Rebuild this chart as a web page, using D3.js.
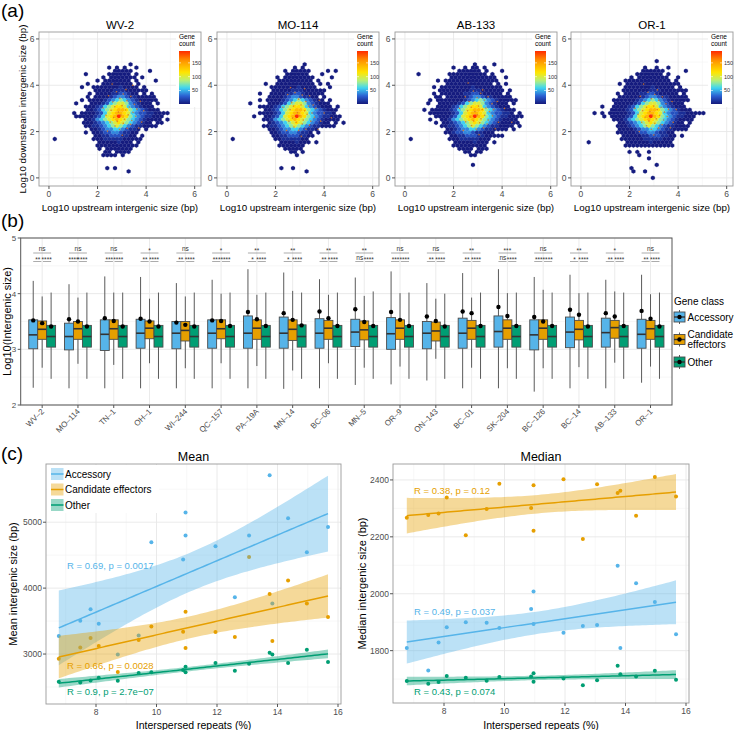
<!DOCTYPE html>
<html>
<head>
<meta charset="UTF-8">
<title>Intergenic size</title>
<script src="https://d3js.org/d3.v7.min.js"></script>
<style>
body { margin: 0; background: #fff; }
svg { font-family: "Liberation Sans", Arial, Helvetica, sans-serif; display: block; }
</style>
</head>
<body>
<script>
/* ---------- data: panel (a) hexbin counts ---------- */
// each grid row is one hex row (top to bottom), one char per hex column
// '.' = empty, digits/letters = count class (see hexCountKey)
var hexStrains = ["WV-2", "MO-114", "AB-133", "OR-1"];
var hexCountKey = {"1": 2, "2": 10, "3": 24, "4": 40, "5": 58, "6": 78, "7": 100, "8": 118, "9": 138, "A": 192};

var hexWV2 = [
"",
"...................1",
"..............1.1.1..1",
"...............11111....1",
"........1.....111111.1",
"............1.1111111.1",
"...........1.1111111.1....1",
"........1...11111111.1",
".......1..111111121111.1",
"..........11111222111111",
".........1.11112233211.1.1",
"........1.1111234432211111",
".......1.111123456543211111",
".....1...1112356776432111.1",
"........111235678875432111",
"........1123567899865432111",
".....1.11112357899875433221111",
".....11111235789A98654322111",
"........11245678987654321111.1",
".......111234567876543211.11",
"........1122345676543221111",
".........1123445543221.1",
"........1.112334432211",
"..........11223332211.1",
"1.........1112222211111",
"...........111112111.1",
"...........11111111111",
"...........1.1111111",
".............11.1111",
"............1111.1",
"",
"",
"",
".............1.1",
"...................1",
""
];
var hexMO114 = [
"",
"..................1",
"................1.1",
".............1.11111....1.1",
"..............111111...1",
"...........1.11111111....1",
"............111111111.1",
"........1..1111111111.1.1",
"..........111111121111...1",
"..........11111222111111",
".......1..11112233211111",
".........1111234432211.1",
".......1.111123456543211.1",
"....1....1112356776432111",
".......1111235678875432111.1",
"........1123567899865432111",
".......11112357899875433221",
".....1..11235789A98654322111",
"........11245678987654321111",
".........1234567876543211.1.1",
"........1122345676543221111",
".........1123445543221",
"..........11233443221.1",
"..........11223332211",
"1..........112222211",
"............11112111.1",
"............1111111",
".............11111",
"...............11.1",
"................1",
"",
"",
"",
"............1..1",
"...................1",
""
];
var hexAB133 = [
"",
"................1....1",
"...........1..1.11.1",
"............111111.1...1",
"..1.......1111111111.1",
"..........111111111111..1",
".......1.11111111111111",
".........111111111111.1.1",
"......1.1111111121111111",
".......11111111222111111.1",
"......1.1111112233211111.1",
"......11.11111234432211111",
".....1.111111123456543211111",
"....1..111112356776432111.1",
".......1111235678875432111",
"...1.1111123567899865432111",
".....1111112357899875433221.1",
"......1111235789A986543221111",
".....1..11245678987654321111",
"......1.11234567876543211111",
"........1122345676543221111.1",
".........1123445543221111.1",
".........1123344322111",
"..........11223332211111",
"1.........11122222111",
"...........111112111.1",
"...........111111111",
"............1111.111",
"..............11.11",
"...............11",
"",
"",
"................1",
"",
"",
""
];
var hexOR1 = [
"..................1",
"",
"...............1..1..1",
"..............111111.....1",
".............1111111.1",
"...........1.11111111..1",
"..........111111111111.1",
"........1.11111111111111",
"..........1111111211111.1",
".........11111112221111111",
"........1.11112233211111.1",
"........111111234432211111",
".......11111123456543211111",
".......111112356776432111",
"....1..1111235678875432111",
"......111123567899865432111",
"..1.1.1111123578998754332211111",
"....1.1111235789A98654322111",
".......111245678987654321111",
"........11234567876543211.1",
"........1112345676543221111",
"........111123445543221111",
"........111112334432211",
".........11111223332211.1",
".........11111122222111",
"1.........111111211111",
"..........1111111111111",
"",
"...........1.1..1",
".............1",
"................1",
"",
"..................1",
"...........1",
"............1..1",
"",
".................1"
];

// small points of candidate effector genes over the hexes (log10 up, log10 down)
var dotsWV2 = [[2.45,3.55],[2.62,3.28],[2.78,3.72],[2.92,3.44],[3.06,3.62],[3.21,3.33],[3.37,3.52],[3.52,3.18],[2.56,2.92],[2.71,3.07],[2.86,2.84],[3.01,3.12],[3.16,2.93],[3.31,3.06],[3.46,2.83],[3.62,2.97],[2.66,2.61],[2.81,2.44],[2.96,2.71],[3.11,2.53],[3.26,2.72],[3.41,2.48],[3.57,2.66],[2.72,2.24],[2.91,2.09],[3.06,2.36],[3.22,2.14],[3.36,2.31],[2.41,2.02],[3.76,3.31],[3.82,2.41],[2.23,3.02],[3.02,1.84],[3.17,3.81],[2.52,2.41],[2.35,2.7],[3.7,2.15],[3.9,2.9],[2.6,4.05],[3.45,4.0]];
var dotsMO114 = [[2.5,3.6],[2.66,3.25],[2.8,3.68],[2.95,3.4],[3.1,3.58],[3.25,3.3],[3.4,3.55],[3.55,3.15],[2.6,2.95],[2.74,3.1],[2.9,2.82],[3.05,3.15],[3.2,2.9],[3.35,3.1],[3.5,2.8],[3.66,3.0],[2.7,2.58],[2.85,2.4],[3.0,2.68],[3.14,2.5],[3.3,2.75],[3.45,2.45],[3.6,2.62],[2.76,2.2],[2.95,2.05],[3.1,2.33],[3.25,2.1],[3.4,2.28],[2.45,2.05],[3.8,3.35],[3.86,2.45],[2.3,3.05],[3.06,1.8],[3.2,3.85],[2.55,2.45],[4.0,2.8],[3.75,2.1],[2.62,3.9],[4.3,2.6]];
var dotsAB133 = [[2.48,3.5],[2.64,3.3],[2.82,3.75],[2.97,3.46],[3.12,3.65],[3.27,3.36],[3.42,3.5],[3.58,3.2],[2.58,2.9],[2.73,3.05],[2.88,2.86],[3.03,3.1],[3.18,2.95],[3.33,3.02],[3.48,2.86],[3.65,2.95],[2.68,2.63],[2.83,2.46],[2.98,2.72],[3.13,2.55],[3.28,2.7],[3.43,2.5],[3.6,2.68],[2.74,2.26],[2.93,2.1],[3.08,2.38],[3.24,2.16],[3.38,2.33],[2.4,2.05],[3.8,3.3],[3.85,2.4],[2.25,3.0],[3.05,1.86],[3.2,3.8],[2.5,2.42],[4.1,3.0],[3.72,2.12],[2.6,4.1],[4.4,2.4]];
var dotsOR1 = [[2.44,3.52],[2.6,3.3],[2.76,3.7],[2.9,3.42],[3.04,3.6],[3.2,3.35],[3.35,3.5],[3.5,3.2],[2.54,2.9],[2.7,3.05],[2.84,2.86],[3.0,3.1],[3.14,2.95],[3.3,3.05],[3.44,2.84],[3.6,2.96],[2.64,2.62],[2.8,2.45],[2.94,2.7],[3.1,2.55],[3.24,2.7],[3.4,2.5],[3.55,2.65],[2.7,2.25],[2.9,2.1],[3.04,2.36],[3.2,2.15],[3.34,2.3],[2.4,2.0],[3.75,3.3],[3.8,2.4],[2.22,3.0],[3.0,1.85],[3.15,3.8],[2.5,2.4],[2.35,2.75],[3.68,2.16],[3.92,2.95],[2.58,4.05]];

var hexGrids = [hexWV2, hexMO114, hexAB133, hexOR1];
var hexDots = [dotsWV2, dotsMO114, dotsAB133, dotsOR1];
var hexTicks = [0, 2, 4, 6];
var geneCountTicks = [50, 100, 150];

/* ---------- data: panel (b) boxplots ---------- */
var boxStrains = ["WV-2","MO-114","TN-1","OH-1","WI-244","QC-157","PA-19A","MN-14","BC-06","MN-5","OR-9","ON-143","BC-01","SK-204","BC-126","BC-14","AB-133","OR-1"];
// [lower whisker, Q1, median, Q3, upper whisker, mean] of log10(intergenic size)
var accStats = [
  [2.31,3.01,3.26,3.53,4.23,3.52],[2.30,2.99,3.23,3.47,4.17,3.54],[2.30,2.98,3.27,3.53,4.31,3.56],
  [2.30,3.02,3.29,3.54,4.30,3.55],[2.30,3.01,3.29,3.50,4.19,3.48],[2.30,3.02,3.29,3.53,4.25,3.52],
  [2.30,3.02,3.29,3.60,4.44,3.67],[2.29,3.02,3.29,3.58,4.38,3.65],[2.30,3.02,3.29,3.55,4.26,3.68],
  [2.36,3.05,3.31,3.54,4.29,3.72],[2.37,3.00,3.28,3.57,4.40,3.67],[2.44,3.01,3.29,3.50,4.19,3.59],
  [2.30,3.02,3.29,3.56,4.37,3.68],[2.30,3.04,3.32,3.60,4.44,3.76],[2.24,2.99,3.26,3.53,4.30,3.58],
  [2.30,3.03,3.31,3.58,4.34,3.71],[2.30,3.04,3.30,3.56,4.25,3.65],[2.40,3.02,3.27,3.54,4.34,3.69]
];
var candStats = [
  [2.67,3.18,3.36,3.51,3.95,3.47],[2.74,3.18,3.37,3.50,3.93,3.50],[2.72,3.18,3.37,3.53,4.02,3.51],
  [2.75,3.19,3.38,3.51,3.91,3.50],[2.66,3.15,3.34,3.50,3.95,3.44],[2.75,3.19,3.37,3.53,4.00,3.51],
  [2.70,3.18,3.38,3.53,3.98,3.54],[2.62,3.16,3.36,3.53,4.05,3.53],[2.75,3.18,3.38,3.52,3.98,3.56],
  [2.67,3.17,3.35,3.51,3.96,3.49],[2.69,3.18,3.38,3.53,4.01,3.53],[2.83,3.15,3.33,3.49,3.91,3.51],
  [2.67,3.18,3.38,3.52,3.93,3.65],[2.66,3.18,3.38,3.53,4.01,3.60],[2.66,3.18,3.38,3.53,4.07,3.50],
  [2.68,3.17,3.36,3.52,4.01,3.62],[2.76,3.20,3.39,3.52,4.04,3.59],[2.69,3.18,3.37,3.52,3.99,3.55]
];
var otherStats = [
  [2.47,3.04,3.23,3.43,4.02,3.41],[2.47,3.04,3.23,3.43,4.02,3.41],[2.47,3.04,3.23,3.43,4.02,3.41],
  [2.47,3.04,3.23,3.43,4.02,3.41],[2.47,3.04,3.23,3.43,4.02,3.41],[2.47,3.04,3.23,3.43,4.02,3.42],
  [2.47,3.04,3.23,3.43,4.02,3.42],[2.47,3.04,3.23,3.44,4.02,3.43],[2.47,3.04,3.23,3.43,4.02,3.42],
  [2.47,3.04,3.23,3.43,4.04,3.42],[2.47,3.04,3.23,3.43,4.02,3.42],[2.47,3.04,3.23,3.43,4.00,3.41],
  [2.47,3.04,3.23,3.43,4.02,3.42],[2.47,3.04,3.23,3.43,4.02,3.42],[2.47,3.04,3.23,3.43,4.02,3.42],
  [2.47,3.04,3.23,3.43,4.02,3.41],[2.47,3.04,3.23,3.43,4.02,3.42],[2.47,3.04,3.23,3.43,4.02,3.41]
];
var sigAll = ["ns","ns","ns","*","ns","*","**","**","**","**","ns","ns","**","***","ns","**","*","ns"];
var sigAccCand = ["**","****","***","**","**","***","*","*","**","ns","***","**","**","ns","***","*","**","**"];
var sigCandOther = ["****","****","****","****","****","****","****","****","****","****","****","****","****","****","****","****","****","****"];
var boxYTicks = [2, 3, 4, 5];

/* ---------- data: panel (c) ---------- */
var repeatPct = [6.77, 7.48, 7.82, 8.09, 8.72, 9.41, 9.83, 10.88, 10.96, 10.96, 11.95, 12.59, 13.06, 13.74, 13.83, 14.35, 14.97, 15.67];
var meanAcc   = [3272, 3505, 3681, 3459, 2994, 3282, 4696, 4434, 5146, 4797, 4636, 3863, 4797, 5711, 3767, 5060, 4545, 4929];
var meanCand  = [2929, 3100, 3242, 3121, 2727, 3212, 3419, 3338, 3641, 3090, 3333, 3257, 4474, 3909, 3197, 4115, 3767, 3560];
var meanOther = [2580, 2570, 2600, 2641, 2596, 2712, 2722, 2757, 2808, 2722, 2863, 2747, 2853, 3020, 2994, 2863, 3065, 2878];
var medAcc    = [1809, 1730, 1829, 1882, 1900, 1898, 1880, 1946, 2008, 1894, 1863, 1887, 1890, 2098, 1809, 2037, 1971, 1858];
var medCand   = [2267, 2277, 2282, 2338, 2206, 2298, 2387, 2301, 2381, 2221, 2402, 2192, 2385, 2354, 2362, 2274, 2410, 2342];
var medOther  = [1693, 1684, 1690, 1711, 1705, 1694, 1707, 1709, 1721, 1691, 1702, 1678, 1696, 1747, 1717, 1709, 1729, 1698];
var meanLabels = ["R = 0.69, p = 0.0017", "R = 0.66, p = 0.0028", "R = 0.9, p = 2.7e\u221207"];
var medLabels  = ["R = 0.49, p = 0.037", "R = 0.38, p = 0.12", "R = 0.43, p = 0.074"];
var geneClasses = ["Accessory", "Candidate effectors", "Other"];
var classColors = ["#56B4E9", "#E69F00", "#009E73"];
var repeatTicks = [8, 10, 12, 14, 16];

/* ---------- drawing ---------- */
var W = 735, H = 730;
var svg = d3.select("body").append("svg").attr("width", W).attr("height", H);
svg.append("rect").attr("width", W).attr("height", H).attr("fill", "#fff");
var defs = svg.append("defs");
var tickCol = "#4d4d4d";

function panelLabel(txt, x, y) {
  svg.append("text").attr("x", x).attr("y", y).attr("font-size", 19).text(txt);
}
panelLabel("(a)", 1, 17);
panelLabel("(b)", 1, 227);
panelLabel("(c)", 1, 460);

// ---- (a) ----
var hexColor = d3.scaleLinear()
  .domain([1, 30, 60, 85, 115, 160, 193])
  .range(["#141a7c", "#2b5fd2", "#3fd8f2", "#b6f07c", "#ffe600", "#ff9000", "#ff2a00"]);
var hexLefts = [39, 217, 395, 571];

// gradient for the colour bar
var grad = defs.append("linearGradient").attr("id", "gc").attr("x1", 0).attr("x2", 0).attr("y1", 1).attr("y2", 0);
d3.range(0, 1.0001, 0.05).forEach(function (t) {
  grad.append("stop").attr("offset", t).attr("stop-color", hexColor(1 + t * 192));
});

function drawHex(k) {
  var left = hexLefts[k];
  var x = d3.scaleLinear().domain([-0.41, 6.26]).range([left, left + 162]);
  var y = d3.scaleLinear().domain([-0.35, 6.3]).range([186, 32]);
  var g = svg.append("g");
  defs.append("clipPath").attr("id", "hc" + k).append("rect")
    .attr("x", left).attr("y", 32).attr("width", 162).attr("height", 154);

  [1, 3, 5].forEach(function (v) {
    g.append("line").attr("x1", x(v)).attr("x2", x(v)).attr("y1", 32).attr("y2", 186).attr("stroke", "#f3f3f3").attr("stroke-width", 0.6);
    g.append("line").attr("y1", y(v)).attr("y2", y(v)).attr("x1", left).attr("x2", left + 162).attr("stroke", "#f3f3f3").attr("stroke-width", 0.6);
  });
  hexTicks.forEach(function (v) {
    g.append("line").attr("x1", x(v)).attr("x2", x(v)).attr("y1", 32).attr("y2", 186).attr("stroke", "#e8e8e8").attr("stroke-width", 0.9);
    g.append("line").attr("y1", y(v)).attr("y2", y(v)).attr("x1", left).attr("x2", left + 162).attr("stroke", "#e8e8e8").attr("stroke-width", 0.9);
  });

  // hex cells
  var cells = [];
  hexGrids[k].forEach(function (row, i) {
    for (var j = 0; j < row.length; j++) {
      var ch = row[j];
      if (ch === ".") continue;
      cells.push({ cx: 0.24 + 0.16 * j + (i % 2 ? 0.08 : 0), cy: 5.04 - 0.14 * i, n: hexCountKey[ch] });
    }
  });
  var hw = (x(0.16) - x(0)) / 2, R = (y(0) - y(0.14)) / 1.5;
  var hexPath = "M0," + (-R) + "L" + hw + "," + (-R / 2) + "L" + hw + "," + (R / 2) + "L0," + R +
    "L" + (-hw) + "," + (R / 2) + "L" + (-hw) + "," + (-R / 2) + "Z";
  var cg = g.append("g").attr("clip-path", "url(#hc" + k + ")");
  cg.selectAll("path.hex").data(cells).enter().append("path")
    .attr("d", hexPath)
    .attr("transform", function (d) { return "translate(" + x(d.cx) + "," + y(d.cy) + ")"; })
    .attr("fill", function (d) { return hexColor(d.n); })
    .attr("stroke", function (d) { return hexColor(d.n); })
    .attr("stroke-width", 0.2);
  cg.selectAll("circle.eff").data(hexDots[k]).enter().append("circle")
    .attr("cx", function (d) { return x(d[0]); })
    .attr("cy", function (d) { return y(d[1]); })
    .attr("r", 0.8).attr("fill", "#e0761a").attr("fill-opacity", 0.85);

  g.append("rect").attr("x", left).attr("y", 32).attr("width", 162).attr("height", 154)
    .attr("fill", "none").attr("stroke", "#9a9a9a").attr("stroke-width", 0.9);

  // axes
  hexTicks.forEach(function (v) {
    g.append("line").attr("x1", x(v)).attr("x2", x(v)).attr("y1", 186).attr("y2", 189).attr("stroke", "#555");
    g.append("text").attr("x", x(v)).attr("y", 197).attr("text-anchor", "middle").attr("font-size", 8.5).attr("fill", tickCol).text(v);
    g.append("line").attr("x1", left - 3).attr("x2", left).attr("y1", y(v)).attr("y2", y(v)).attr("stroke", "#555");
    g.append("text").attr("x", left - 4.5).attr("y", y(v) + 3).attr("text-anchor", "end").attr("font-size", 8.5).attr("fill", tickCol).text(v);
  });
  g.append("text").attr("x", left + 81).attr("y", 211).attr("text-anchor", "middle").attr("font-size", 9.8)
    .text("Log10 upstream intergenic size (bp)");
  g.append("text").attr("x", left + 81).attr("y", 29).attr("text-anchor", "middle").attr("font-size", 11.5)
    .text(hexStrains[k]);
  if (k === 0) {
    g.append("text").attr("transform", "translate(26,109) rotate(-90)").attr("text-anchor", "middle").attr("font-size", 9.8)
      .text("Log10 downstream intergenic size (bp)");
  }

  // colour bar legend
  var lx = left + 140;
  g.append("rect").attr("x", lx - 3).attr("y", 33).attr("width", 24).attr("height", 74).attr("fill", "#fff");
  g.append("text").attr("x", lx).attr("y", 39).attr("font-size", 6.5).text("Gene");
  g.append("text").attr("x", lx).attr("y", 46).attr("font-size", 6.5).text("count");
  var cb = d3.scaleLinear().domain([1, 193]).range([104, 51]);
  g.append("rect").attr("x", lx).attr("y", 51).attr("width", 11).attr("height", 53).attr("fill", "url(#gc)");
  geneCountTicks.forEach(function (v) {
    g.append("line").attr("x1", lx).attr("x2", lx + 2).attr("y1", cb(v)).attr("y2", cb(v)).attr("stroke", "#fff").attr("stroke-width", 0.6);
    g.append("line").attr("x1", lx + 9).attr("x2", lx + 11).attr("y1", cb(v)).attr("y2", cb(v)).attr("stroke", "#fff").attr("stroke-width", 0.6);
    g.append("text").attr("x", lx + 13).attr("y", cb(v) + 2).attr("font-size", 5.5).attr("fill", "#333").text(v);
  });
}
for (var k = 0; k < 4; k++) drawHex(k);

// ---- (b) ----
(function () {
  var L = 20.7, Rr = 672, T = 238, B = 405;
  var bx = d3.scalePoint().domain(boxStrains).range([L, Rr]).padding(0.6);
  var by = d3.scaleLinear().domain([2, 5]).range([B, T]);
  var bw = bx.step() * 0.25;
  var g = svg.append("g");

  [2.5, 3.5, 4.5].forEach(function (v) {
    g.append("line").attr("x1", L).attr("x2", Rr).attr("y1", by(v)).attr("y2", by(v)).attr("stroke", "#f2f2f2").attr("stroke-width", 0.6);
  });
  boxYTicks.forEach(function (v) {
    g.append("line").attr("x1", L).attr("x2", Rr).attr("y1", by(v)).attr("y2", by(v)).attr("stroke", "#e6e6e6").attr("stroke-width", 0.9);
  });
  boxStrains.forEach(function (s) {
    g.append("line").attr("x1", bx(s)).attr("x2", bx(s)).attr("y1", T).attr("y2", B).attr("stroke", "#e9e9e9").attr("stroke-width", 0.9);
  });

  var sets = [accStats, candStats, otherStats];
  sets.forEach(function (stats, c) {
    var off = (c - 1) * bw;
    boxStrains.forEach(function (s, i) {
      var d = stats[i], cx = bx(s) + off;
      g.append("line").attr("x1", cx).attr("x2", cx).attr("y1", by(d[4])).attr("y2", by(d[3])).attr("stroke", "#5a5a5a").attr("stroke-width", 1);
      g.append("line").attr("x1", cx).attr("x2", cx).attr("y1", by(d[1])).attr("y2", by(d[0])).attr("stroke", "#5a5a5a").attr("stroke-width", 1);
      g.append("rect").attr("x", cx - bw / 2).attr("width", bw).attr("y", by(d[3])).attr("height", by(d[1]) - by(d[3]))
        .attr("fill", classColors[c]).attr("stroke", "#4a4a4a").attr("stroke-width", 0.9);
      g.append("line").attr("x1", cx - bw / 2).attr("x2", cx + bw / 2).attr("y1", by(d[2])).attr("y2", by(d[2])).attr("stroke", "#333").attr("stroke-width", 1.6);
    });
  });
  sets.forEach(function (stats, c) {
    var off = (c - 1) * bw;
    boxStrains.forEach(function (s, i) {
      g.append("circle").attr("cx", bx(s) + off).attr("cy", by(stats[i][5])).attr("r", 2.2).attr("fill", "#000");
    });
  });

  // significance brackets
  boxStrains.forEach(function (s, i) {
    var xb = bx(s) - bw, xo = bx(s), xg = bx(s) + bw;
    g.append("line").attr("x1", xb).attr("x2", xg).attr("y1", 253).attr("y2", 253).attr("stroke", "#888").attr("stroke-width", 0.7);
    g.append("line").attr("x1", xb).attr("x2", xo - 0.8).attr("y1", 261.5).attr("y2", 261.5).attr("stroke", "#888").attr("stroke-width", 0.7);
    g.append("line").attr("x1", xo + 0.8).attr("x2", xg).attr("y1", 261.5).attr("y2", 261.5).attr("stroke", "#888").attr("stroke-width", 0.7);
    function lab(t, x, yy) {
      g.append("text").attr("x", x).attr("y", t === "ns" ? yy - 1.5 : yy + 1).attr("text-anchor", "middle")
        .attr("font-size", 6.5).attr("fill", "#333").text(t);
    }
    lab(sigAll[i], xo, 252);
    lab(sigAccCand[i], (xb + xo) / 2, 261);
    lab(sigCandOther[i], (xo + xg) / 2, 261);
  });

  g.append("rect").attr("x", L).attr("y", T).attr("width", Rr - L).attr("height", B - T)
    .attr("fill", "none").attr("stroke", "#555").attr("stroke-width", 1);

  boxYTicks.forEach(function (v) {
    g.append("line").attr("x1", L - 3).attr("x2", L).attr("y1", by(v)).attr("y2", by(v)).attr("stroke", "#555");
    g.append("text").attr("x", L - 4.5).attr("y", by(v) + 3).attr("text-anchor", "end").attr("font-size", 8).attr("fill", tickCol).text(v);
  });
  boxStrains.forEach(function (s) {
    g.append("line").attr("x1", bx(s)).attr("x2", bx(s)).attr("y1", B).attr("y2", B + 3).attr("stroke", "#555");
    g.append("text").attr("transform", "translate(" + (bx(s) + 2.5) + "," + (B + 7) + ") rotate(-45)")
      .attr("text-anchor", "end").attr("font-size", 8).attr("fill", tickCol).text(s.replace("-", "\u2013"));
  });
  g.append("text").attr("transform", "translate(11," + ((T + B) / 2) + ") rotate(-90)").attr("text-anchor", "middle")
    .attr("font-size", 11).text("Log10(Intergenic size)");

  // legend
  g.append("text").attr("x", 674).attr("y", 305).attr("font-size", 10).text("Gene class");
  var keyY = [317, 339.5, 362];
  var keyText = [["Accessory"], ["Candidate", "effectors"], ["Other"]];
  keyY.forEach(function (ky, c) {
    g.append("line").attr("x1", 679.5).attr("x2", 679.5).attr("y1", ky - 7).attr("y2", ky + 7).attr("stroke", "#5a5a5a");
    g.append("rect").attr("x", 674).attr("y", ky - 5).attr("width", 11).attr("height", 10)
      .attr("fill", classColors[c]).attr("stroke", "#4a4a4a").attr("stroke-width", 0.9);
    g.append("line").attr("x1", 674).attr("x2", 685).attr("y1", ky).attr("y2", ky).attr("stroke", "#333").attr("stroke-width", 1.4);
    g.append("circle").attr("cx", 679.5).attr("cy", ky).attr("r", 2.2).attr("fill", "#000");
    var lines = keyText[c];
    lines.forEach(function (t, li) {
      g.append("text").attr("x", 687.5).attr("y", ky + 3.5 + (li - (lines.length - 1) / 2) * 9.5).attr("font-size", 10).text(t);
    });
  });
})();

// ---- (c) ----
function linFit(xs, ys) {
  var n = xs.length, mx = d3.mean(xs), my = d3.mean(ys);
  var sxx = d3.sum(xs, function (v) { return (v - mx) * (v - mx); });
  var sxy = d3.sum(xs, function (v, i) { return (v - mx) * (ys[i] - my); });
  var b = sxy / sxx, a = my - b * mx;
  var sse = d3.sum(xs, function (v, i) { var r = ys[i] - (a + b * v); return r * r; });
  var s = Math.sqrt(sse / (n - 2));
  return { a: a, b: b, s: s, mx: mx, sxx: sxx, n: n };
}
var tCrit = 2.1199; // t(0.975, df = 16)

function drawScatter(o) {
  var x = d3.scaleLinear().domain(o.xdom).range([o.L, o.R]);
  var y = d3.scaleLinear().domain(o.ydom).range([o.B, o.T]);
  var g = svg.append("g");
  defs.append("clipPath").attr("id", o.id).append("rect").attr("x", o.L).attr("y", o.T).attr("width", o.R - o.L).attr("height", o.B - o.T);

  [7, 9, 11, 13, 15].forEach(function (v) {
    g.append("line").attr("x1", x(v)).attr("x2", x(v)).attr("y1", o.T).attr("y2", o.B).attr("stroke", "#f3f3f3").attr("stroke-width", 0.6);
  });
  o.yminor.forEach(function (v) {
    g.append("line").attr("x1", o.L).attr("x2", o.R).attr("y1", y(v)).attr("y2", y(v)).attr("stroke", "#f3f3f3").attr("stroke-width", 0.6);
  });
  repeatTicks.forEach(function (v) {
    g.append("line").attr("x1", x(v)).attr("x2", x(v)).attr("y1", o.T).attr("y2", o.B).attr("stroke", "#e8e8e8").attr("stroke-width", 0.9);
  });
  o.yticks.forEach(function (v) {
    g.append("line").attr("x1", o.L).attr("x2", o.R).attr("y1", y(v)).attr("y2", y(v)).attr("stroke", "#e8e8e8").attr("stroke-width", 0.9);
  });

  var cg = g.append("g").attr("clip-path", "url(#" + o.id + ")");
  o.series.forEach(function (ys, c) {
    cg.selectAll(null).data(ys).enter().append("circle")
      .attr("cx", function (d, i) { return x(repeatPct[i]); })
      .attr("cy", function (d) { return y(d); })
      .attr("r", 2).attr("fill", classColors[c]);
  });
  o.series.forEach(function (ys, c) {
    var f = linFit(repeatPct, ys);
    var x0 = d3.min(repeatPct), x1 = d3.max(repeatPct);
    var pts = d3.range(0, 81).map(function (i) {
      var xv = x0 + (x1 - x0) * i / 80;
      var fit = f.a + f.b * xv;
      var se = f.s * Math.sqrt(1 / f.n + (xv - f.mx) * (xv - f.mx) / f.sxx);
      return { x: xv, y: fit, lo: fit - tCrit * se, hi: fit + tCrit * se };
    });
    cg.append("path").datum(pts)
      .attr("d", d3.area().x(function (d) { return x(d.x); }).y0(function (d) { return y(d.lo); }).y1(function (d) { return y(d.hi); }))
      .attr("fill", classColors[c]).attr("fill-opacity", 0.4);
    cg.append("path").datum(pts)
      .attr("d", d3.line().x(function (d) { return x(d.x); }).y(function (d) { return y(d.y); }))
      .attr("fill", "none").attr("stroke", classColors[c]).attr("stroke-width", 1.5);
  });
  o.labels.forEach(function (lb) {
    g.append("text").attr("x", o.L + 21).attr("y", lb.y).attr("font-size", 9.5).attr("fill", classColors[lb.c]).text(lb.t);
  });

  g.append("rect").attr("x", o.L).attr("y", o.T).attr("width", o.R - o.L).attr("height", o.B - o.T)
    .attr("fill", "none").attr("stroke", "#9a9a9a").attr("stroke-width", 0.9);

  repeatTicks.forEach(function (v) {
    g.append("line").attr("x1", x(v)).attr("x2", x(v)).attr("y1", o.B).attr("y2", o.B + 3).attr("stroke", "#555");
    g.append("text").attr("x", x(v)).attr("y", o.B + 10.5).attr("text-anchor", "middle").attr("font-size", 8.5).attr("fill", tickCol).text(v);
  });
  o.yticks.forEach(function (v) {
    g.append("line").attr("x1", o.L - 3).attr("x2", o.L).attr("y1", y(v)).attr("y2", y(v)).attr("stroke", "#555");
    g.append("text").attr("x", o.L - 4).attr("y", y(v) + 3).attr("text-anchor", "end").attr("font-size", 8.5).attr("fill", tickCol).text(v);
  });
  g.append("text").attr("x", (o.L + o.R) / 2).attr("y", 728.5).attr("text-anchor", "middle").attr("font-size", 10.5).text("Interspersed repeats (%)");
  g.append("text").attr("x", (o.L + o.R) / 2).attr("y", 461).attr("text-anchor", "middle").attr("font-size", 12.5).text(o.title);
  g.append("text").attr("transform", "translate(" + o.ytx + "," + ((o.T + o.B) / 2) + ") rotate(-90)").attr("text-anchor", "middle")
    .attr("font-size", 11).text(o.ytitle);

  if (o.legend) {
    g.append("rect").attr("x", o.L + 1).attr("y", o.T + 1).attr("width", 112).attr("height", 48).attr("fill", "#fff");
    [474, 489.5, 505].forEach(function (ky, c) {
      g.append("rect").attr("x", 51).attr("y", ky - 6).attr("width", 12.5).attr("height", 12).attr("fill", classColors[c]).attr("fill-opacity", 0.4);
      g.append("line").attr("x1", 51).attr("x2", 63.5).attr("y1", ky).attr("y2", ky).attr("stroke", classColors[c]).attr("stroke-width", 1.5);
      g.append("text").attr("x", 65).attr("y", ky + 3.6).attr("font-size", 10).text(geneClasses[c]);
    });
  }
}

drawScatter({
  id: "cm", L: 46, R: 341, T: 464, B: 704, xdom: [6.347, 16.099], ydom: [2242, 5883],
  yticks: [3000, 4000, 5000], yminor: [2500, 3500, 4500, 5500],
  series: [meanAcc, meanCand, meanOther], title: "Mean", ytitle: "Mean intergenic size (bp)", ytx: 17,
  labels: [{ t: meanLabels[0], c: 0, y: 569 }, { t: meanLabels[1], c: 1, y: 669 }, { t: meanLabels[2], c: 2, y: 695 }],
  legend: true
});
drawScatter({
  id: "cd", L: 393, R: 689, T: 464, B: 703, xdom: [6.314, 16.099], ydom: [1616, 2456],
  yticks: [1800, 2000, 2200, 2400], yminor: [1700, 1900, 2100, 2300],
  series: [medAcc, medCand, medOther], title: "Median", ytitle: "Median intergenic size (bp)", ytx: 366,
  labels: [{ t: medLabels[0], c: 0, y: 615 }, { t: medLabels[1], c: 1, y: 494 }, { t: medLabels[2], c: 2, y: 695 }],
  legend: false
});
</script>
</body>
</html>
